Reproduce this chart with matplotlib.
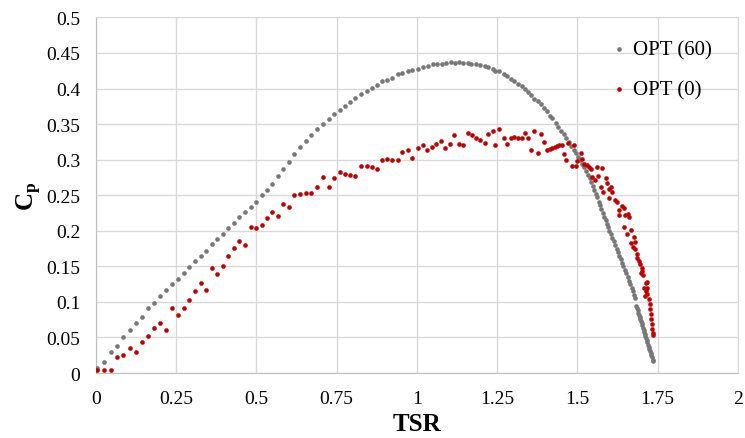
import matplotlib
matplotlib.use("Agg")
import matplotlib.pyplot as plt

plt.rcParams['font.family'] = ['Liberation Serif', 'DejaVu Serif']
plt.rcParams['mathtext.fontset'] = 'custom'
plt.rcParams['mathtext.rm'] = 'Liberation Serif'
plt.rcParams['mathtext.bf'] = 'Liberation Serif:bold'

# OPT (60) - grey series
tsr_60 = [
    0.005, 0.026, 0.047, 0.066, 0.086, 0.106, 0.126, 0.143, 0.163, 0.183,
    0.199, 0.220, 0.238, 0.255, 0.274, 0.292, 0.309, 0.327, 0.344, 0.361,
    0.378, 0.396, 0.413, 0.431, 0.447, 0.465, 0.483, 0.499, 0.517, 0.533,
    0.550, 0.567, 0.584, 0.601, 0.619, 0.636, 0.654, 0.671, 0.690, 0.708,
    0.726, 0.743, 0.760, 0.776, 0.792, 0.809, 0.826, 0.844, 0.860, 0.876,
    0.892, 0.908, 0.924, 0.940, 0.955, 0.971, 0.986, 1.003, 1.019, 1.034,
    1.050, 1.062, 1.077, 1.090, 1.105, 1.118, 1.132, 1.145, 1.158, 1.170,
    1.184, 1.197, 1.211, 1.223, 1.236, 1.245, 1.257, 1.270, 1.281, 1.293,
    1.304, 1.315, 1.326, 1.336, 1.347, 1.357, 1.366, 1.377, 1.386, 1.396,
    1.405, 1.414, 1.422, 1.432, 1.440, 1.449, 1.457, 1.465, 1.474, 1.481,
    1.488, 1.495, 1.503, 1.509, 1.515, 1.521, 1.527, 1.533, 1.538, 1.543,
    1.548, 1.553, 1.558, 1.562, 1.567, 1.571, 1.575, 1.580, 1.584, 1.588,
    1.592, 1.596, 1.600, 1.604, 1.609, 1.613, 1.617, 1.622, 1.626, 1.630,
    1.635, 1.639, 1.643, 1.648, 1.652, 1.657, 1.661, 1.665, 1.670, 1.673,
    1.676, 1.679, 1.684, 1.686, 1.688, 1.690, 1.692, 1.694, 1.696, 1.698,
    1.700, 1.702, 1.704, 1.706, 1.708, 1.710, 1.712, 1.714, 1.716, 1.718,
    1.720, 1.722, 1.724, 1.726, 1.728, 1.730, 1.732, 1.734, 1.736,
]
cp_60 = [
    0.007, 0.016, 0.030, 0.038, 0.051, 0.060, 0.071, 0.079, 0.091, 0.098,
    0.109, 0.117, 0.125, 0.132, 0.141, 0.149, 0.157, 0.164, 0.172, 0.181,
    0.189, 0.196, 0.204, 0.211, 0.220, 0.227, 0.233, 0.241, 0.250, 0.257,
    0.266, 0.277, 0.287, 0.297, 0.308, 0.318, 0.326, 0.334, 0.343, 0.350,
    0.357, 0.364, 0.370, 0.375, 0.381, 0.387, 0.392, 0.397, 0.401, 0.405,
    0.410, 0.412, 0.415, 0.420, 0.422, 0.424, 0.426, 0.428, 0.430, 0.432,
    0.434, 0.434, 0.435, 0.436, 0.437, 0.436, 0.437, 0.436, 0.436, 0.435,
    0.434, 0.433, 0.432, 0.430, 0.428, 0.425, 0.424, 0.421, 0.418, 0.414,
    0.410, 0.406, 0.403, 0.399, 0.395, 0.391, 0.386, 0.383, 0.378, 0.373,
    0.368, 0.362, 0.358, 0.352, 0.346, 0.341, 0.336, 0.330, 0.325, 0.319,
    0.314, 0.309, 0.304, 0.299, 0.294, 0.289, 0.284, 0.279, 0.274, 0.268,
    0.263, 0.257, 0.252, 0.247, 0.241, 0.236, 0.231, 0.225, 0.220, 0.215,
    0.210, 0.205, 0.200, 0.195, 0.190, 0.185, 0.180, 0.175, 0.170, 0.165,
    0.160, 0.155, 0.150, 0.145, 0.140, 0.135, 0.130, 0.125, 0.120, 0.115,
    0.110, 0.105, 0.094, 0.091, 0.088, 0.085, 0.082, 0.079, 0.076, 0.073,
    0.070, 0.067, 0.064, 0.061, 0.058, 0.055, 0.052, 0.049, 0.046, 0.043,
    0.040, 0.037, 0.034, 0.031, 0.028, 0.025, 0.022, 0.019, 0.017,
]

# OPT (0) - red series
tsr_0 = [
    0.005, 0.026, 0.047, 0.066, 0.086, 0.106, 0.126, 0.143, 0.163, 0.183,
    0.199, 0.220, 0.238, 0.255, 0.274, 0.292, 0.309, 0.327, 0.344, 0.361,
    0.378, 0.396, 0.413, 0.431, 0.447, 0.465, 0.483, 0.499, 0.517, 0.533,
    0.550, 0.567, 0.584, 0.601, 0.619, 0.636, 0.654, 0.671, 0.690, 0.708,
    0.726, 0.743, 0.760, 0.776, 0.792, 0.809, 0.826, 0.844, 0.860, 0.876,
    0.892, 0.908, 0.924, 0.940, 0.955, 0.971, 0.986, 1.003, 1.019, 1.032,
    1.047, 1.059, 1.074, 1.089, 1.104, 1.116, 1.132, 1.143, 1.158, 1.171,
    1.184, 1.196, 1.211, 1.222, 1.236, 1.245, 1.257, 1.270, 1.282, 1.293,
    1.304, 1.315, 1.327, 1.336, 1.347, 1.356, 1.366, 1.377, 1.386, 1.396,
    1.406, 1.414, 1.422, 1.429, 1.436, 1.444, 1.451, 1.457, 1.465, 1.472,
    1.482, 1.488, 1.496, 1.500, 1.511, 1.514, 1.521, 1.529, 1.537, 1.542,
    1.560, 1.576, 1.547, 1.554, 1.565, 1.589, 1.593, 1.604, 1.600, 1.573,
    1.581, 1.608, 1.598, 1.616, 1.623, 1.640, 1.631, 1.646, 1.631, 1.648,
    1.661, 1.657, 1.646, 1.668, 1.655, 1.675, 1.667, 1.678, 1.673, 1.680,
    1.685, 1.687, 1.693, 1.696, 1.700, 1.698, 1.704, 1.701, 1.716, 1.714,
    1.706, 1.718, 1.714, 1.718, 1.711, 1.722, 1.725, 1.727, 1.729, 1.729,
    1.731, 1.733, 1.734, 1.735,
]
cp_0 = [
    0.004, 0.004, 0.004, 0.022, 0.025, 0.035, 0.029, 0.043, 0.052, 0.064,
    0.070, 0.061, 0.091, 0.082, 0.091, 0.103, 0.116, 0.126, 0.117, 0.147,
    0.139, 0.150, 0.164, 0.176, 0.186, 0.180, 0.206, 0.204, 0.208, 0.218,
    0.226, 0.221, 0.237, 0.233, 0.250, 0.252, 0.253, 0.253, 0.261, 0.276,
    0.261, 0.274, 0.282, 0.280, 0.279, 0.277, 0.291, 0.291, 0.290, 0.287,
    0.300, 0.301, 0.299, 0.299, 0.311, 0.314, 0.302, 0.316, 0.321, 0.313,
    0.318, 0.322, 0.326, 0.316, 0.322, 0.335, 0.322, 0.321, 0.338, 0.334,
    0.331, 0.328, 0.324, 0.336, 0.340, 0.320, 0.343, 0.331, 0.322, 0.330,
    0.332, 0.330, 0.330, 0.337, 0.331, 0.313, 0.341, 0.309, 0.336, 0.325,
    0.313, 0.315, 0.316, 0.318, 0.319, 0.320, 0.321, 0.308, 0.300, 0.324,
    0.291, 0.321, 0.291, 0.298, 0.309, 0.301, 0.294, 0.293, 0.290, 0.287,
    0.290, 0.288, 0.276, 0.271, 0.277, 0.274, 0.267, 0.262, 0.259, 0.262,
    0.255, 0.254, 0.246, 0.243, 0.240, 0.235, 0.229, 0.232, 0.222, 0.222,
    0.219, 0.223, 0.205, 0.201, 0.195, 0.191, 0.183, 0.184, 0.177, 0.174,
    0.167, 0.162, 0.158, 0.153, 0.147, 0.141, 0.138, 0.144, 0.128, 0.127,
    0.119, 0.120, 0.116, 0.111, 0.109, 0.104, 0.097, 0.090, 0.083, 0.076,
    0.069, 0.062, 0.056, 0.054,
]

x_ticks = [0, 0.25, 0.5, 0.75, 1, 1.25, 1.5, 1.75, 2]
x_labels = ['0', '0.25', '0.5', '0.75', '1', '1.25', '1.5', '1.75', '2']
y_ticks = [0, 0.05, 0.1, 0.15, 0.2, 0.25, 0.3, 0.35, 0.4, 0.45, 0.5]
y_labels = ['0', '0.05', '0.1', '0.15', '0.2', '0.25', '0.3', '0.35', '0.4', '0.45', '0.5']

fig = plt.figure(figsize=(7.45, 4.39), dpi=100)
ax = fig.add_axes([0.1285, 0.148, 0.862, 0.810])

ax.scatter(tsr_60, cp_60, s=11, color='#777777', linewidths=0, label='OPT (60)', zorder=3)
ax.scatter(tsr_0, cp_0, s=11, color='#C00000', linewidths=0, label='OPT (0)', zorder=3)

ax.set_xlim(0, 2)
ax.set_ylim(0, 0.5)
ax.set_xticks(x_ticks)
ax.set_xticklabels(x_labels)
ax.set_yticks(y_ticks)
ax.set_yticklabels(y_labels)
ax.tick_params(length=0, labelsize=14)
ax.tick_params(axis='x', pad=12)
ax.tick_params(axis='y', pad=11)
ax.grid(True, color='#D9D9D9', linewidth=1)
ax.set_axisbelow(True)
for side in ['top', 'right']:
    ax.spines[side].set_color('#D9D9D9')
for side in ['left', 'bottom']:
    ax.spines[side].set_color('#BFBFBF')

ax.set_xlabel('TSR', fontsize=18, fontweight='bold', labelpad=4)
ax.set_ylabel(r'$\mathbf{C_p}$', fontsize=18, labelpad=2)

leg = fig.legend(loc='upper left', bbox_to_anchor=(0.822, 0.906), frameon=False,
                 fontsize=15, markerscale=1.0, handlelength=0.6, handletextpad=0.4,
                 labelspacing=0.95, borderaxespad=0, borderpad=0)

fig.savefig('out.png', dpi=100)
